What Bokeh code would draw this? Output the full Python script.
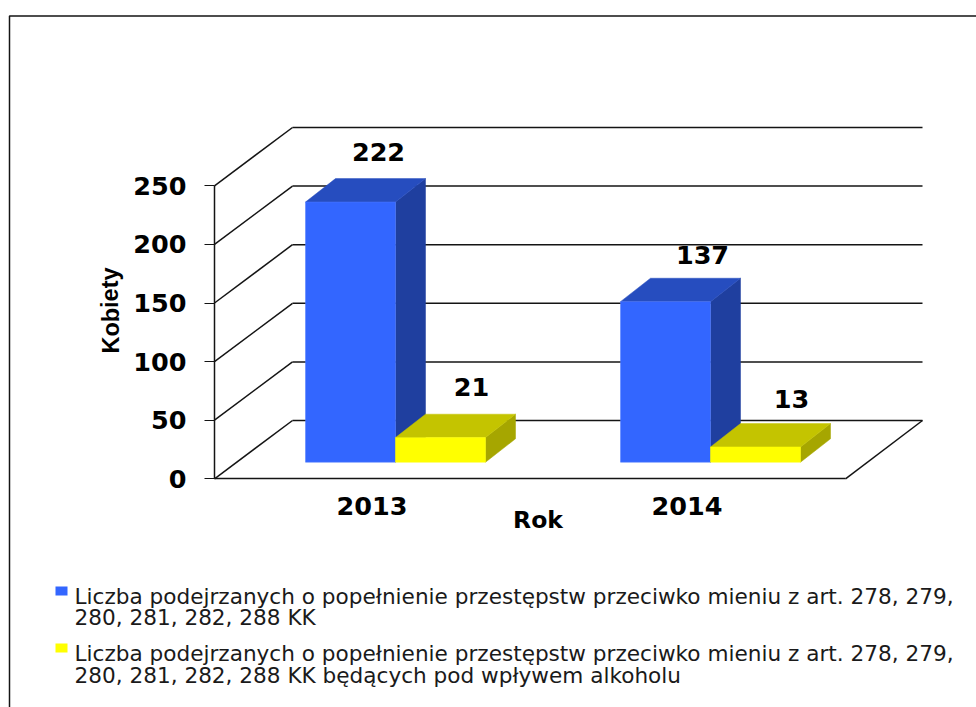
from bokeh.plotting import figure
from bokeh.models import Range1d, LinearAxis, FixedTicker
from bokeh.core.properties import value
from bokeh.embed import file_html
from bokeh.resources import INLINE

# ---- data ----
years = ["2013", "2014"]
podejrzani = [222, 137]
pod_wplywem = [21, 13]
y_ticks = [0, 50, 100, 150, 200, 250]
y_title = "Kobiety"
x_title = "Rok"
legend_blue = ["Liczba podejrzanych o popełnienie przestępstw przeciwko mieniu z art. 278, 279,",
               "280, 281, 282, 288 KK"]
legend_yellow = ["Liczba podejrzanych o popełnienie przestępstw przeciwko mieniu z art. 278, 279,",
                 "280, 281, 282, 288 KK będących pod wpływem alkoholu"]

# ---- layout (pixels in the picture) ----
W, H = 976, 707
PX_PER_UNIT = 1.172
Y0 = 478.3
AX_X = 214
FLOOR_R = 845
WALL_DX = 78
WALL_DY = 58.3 / PX_PER_UNIT
CAT_0, CAT_W = 371.5, 315
BAR_W = 90
BAR_SHIFT = 23.5
BAR_DX = 30
BAR_DY = 23.4 / PX_PER_UNIT
BAR_BASE = (478.3 - 461.7) / PX_PER_UNIT
LABEL_DX = [[28, 37], [31, 36]]   # px from bar centre, per series / category
LABEL_DY = [[27, 23], [27, 25]]   # px above bar's back top edge

FONT_BOLD = value("DejaVu Sans")
FONT = value("DejaVu Sans")
LINE = "#141414"


def py(page_y):
    return (Y0 - page_y) / PX_PER_UNIT


p = figure(width=W, height=H, output_backend="svg", toolbar_location=None,
           x_axis_type=None, y_axis_type=None,
           x_range=Range1d(0, W), y_range=Range1d(py(H), py(0)),
           min_border=0, outline_line_color=None)
p.xgrid.visible = False
p.ygrid.visible = False

# page border
p.line([9, 9, W], [py(H), py(15.5), py(15.5)], line_color=LINE, line_width=1.5)

# walls and floor
xd0, yd0, xd1, yd1 = [], [], [], []
for t in y_ticks:
    xd0 += [AX_X, AX_X + WALL_DX]
    yd0 += [t, t + WALL_DY]
    xd1 += [AX_X + WALL_DX, 922]
    yd1 += [t + WALL_DY, t + WALL_DY]
xd0.append(FLOOR_R); yd0.append(0); xd1.append(922); yd1.append(WALL_DY)
p.segment(xd0, yd0, xd1, yd1, line_color=LINE, line_width=1.5)


def bar(x_left, v, front, top, side, edge):
    x_right = x_left + BAR_W
    y_top = BAR_BASE + v
    p.patch([x_right, x_right + BAR_DX, x_right + BAR_DX, x_right],
            [BAR_BASE, BAR_BASE + BAR_DY, y_top + BAR_DY, y_top],
            fill_color=side, line_color=side, line_width=0.5)
    p.patch([x_left, x_left + BAR_DX, x_right + BAR_DX, x_right],
            [y_top, y_top + BAR_DY, y_top + BAR_DY, y_top],
            fill_color=top, line_color=top, line_width=0.5)
    p.patch([x_left, x_right, x_right, x_left],
            [BAR_BASE, BAR_BASE, y_top, y_top],
            fill_color=front, line_color=edge, line_width=0.5)


label_x, label_y, label_t = [], [], []
for i, year in enumerate(years):
    cx = CAT_0 + CAT_W * i + BAR_SHIFT
    bar(cx - BAR_W, podejrzani[i], "#3366FF", "#264DBF", "#1F3F9F", "#4F7BFF")
    bar(cx, pod_wplywem[i], "#FFFF00", "#C4C400", "#A6A600", "#FFFF00")
    for s, (vals, centre) in enumerate([(podejrzani, cx - BAR_W / 2), (pod_wplywem, cx + BAR_W / 2)]):
        label_x.append(centre + LABEL_DX[s][i])
        label_y.append(BAR_BASE + vals[i] + BAR_DY + LABEL_DY[s][i] / PX_PER_UNIT)
        label_t.append(str(vals[i]))

p.text(label_x, label_y, text=label_t, text_font=FONT_BOLD, text_font_style="bold",
       text_font_size="25.5px", text_align="center", text_baseline="middle", text_color="#000000")

# axes
yax = LinearAxis(fixed_location=AX_X, bounds=(0, 250), ticker=FixedTicker(ticks=y_ticks))
yax.axis_line_color = LINE
yax.axis_line_width = 1.5
yax.major_tick_line_color = LINE
yax.major_tick_line_width = 1.2
yax.major_tick_out = 10
yax.major_tick_in = 0
yax.minor_tick_line_color = None
yax.major_label_standoff = 18
yax.major_label_text_font = "DejaVu Sans"
yax.major_label_text_font_style = "bold"
yax.major_label_text_font_size = "25.5px"
yax.major_label_text_color = "#000000"
p.add_layout(yax, "left")

cat_ticks = [CAT_0 + CAT_W * i for i in range(len(years))]
xax = LinearAxis(fixed_location=0, bounds=(AX_X, FLOOR_R), ticker=FixedTicker(ticks=cat_ticks))
xax.major_label_overrides = {t: y for t, y in zip(cat_ticks, years)}
xax.axis_line_color = LINE
xax.axis_line_width = 1.5
xax.major_tick_line_color = None
xax.major_tick_out = 0
xax.major_tick_in = 0
xax.minor_tick_line_color = None
xax.major_label_standoff = 18
xax.major_label_text_font = "DejaVu Sans"
xax.major_label_text_font_style = "bold"
xax.major_label_text_font_size = "25.5px"
xax.major_label_text_color = "#000000"
p.add_layout(xax, "below")

# axis titles
p.text([110], [py(310)], text=[y_title], angle=1.5708, text_font=value("Liberation Sans"),
       text_font_style="bold", text_font_size="23.5px", text_align="center",
       text_baseline="middle", text_color="#000000")
p.text([537.5], [py(519.5)], text=[x_title], text_font=FONT_BOLD, text_font_style="bold",
       text_font_size="23.5px", text_align="center", text_baseline="middle", text_color="#000000")

# legend
p.quad(left=[55], right=[67], top=[py(586)], bottom=[py(595)], fill_color="#3366FF", line_color=None)
p.quad(left=[55], right=[67], top=[py(643)], bottom=[py(652)], fill_color="#FFFF00", line_color=None)
legend_lines = legend_blue + legend_yellow
legend_base = [596, 617, 653, 675]
p.text([74] * 4, [py(b) for b in legend_base], text=legend_lines, text_font=FONT,
       text_font_size="21.6px", text_align="left", text_baseline="alphabetic", text_color="#1a1a1a")

open("out.html", "w").write(file_html(p, INLINE))
